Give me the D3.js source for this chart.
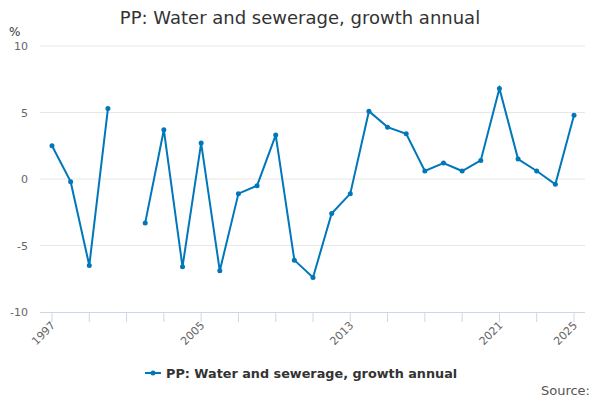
<!DOCTYPE html>
<html><head><meta charset="utf-8">
<script src="https://cdn.jsdelivr.net/npm/d3@7"></script>
<style>body{margin:0;font-family:"DejaVu Sans",sans-serif;}</style>
</head><body><div id="chart"></div>
<script>
// chart data
const years = d3.range(1997, 2026);
const growth = [2.5, -0.2, -6.5, 5.3, null, -3.3, 3.7, -6.6, 2.7, -6.9, -1.1, -0.5, 3.3, -6.1, -7.4,
  -2.6, -1.1, 5.1, 3.9, 3.4, 0.6, 1.2, 0.6, 1.4, 6.8, 1.5, 0.6, -0.4, 4.8];
const yTicks = [-10, -5, 0, 5, 10];
const xLabels = [1997, 2005, 2013, 2021, 2025];
const seriesName = "PP: Water and sewerage, growth annual";

const W = 600, H = 400;
const svg = d3.select("#chart").append("svg").attr("width", W).attr("height", H);

const x = d3.scaleLinear().domain([1997, 2025]).range([52, 574]);
const y = d3.scaleLinear().domain([-10, 10]).range([312, 46]);

// title
svg.append("text").attr("x", 300).attr("y", 24).attr("text-anchor", "middle")
  .attr("font-size", 18).attr("fill", "#333").text("PP: Water and sewerage, growth annual");
svg.append("text").attr("x", 9).attr("y", 36).attr("font-size", 12).attr("fill", "#333").text("%");

// gridlines
svg.append("g").selectAll("line").data(yTicks.filter(d => d !== -10)).enter().append("line")
  .attr("x1", 40).attr("x2", 585).attr("y1", d => y(d)).attr("y2", d => y(d))
  .attr("stroke", "#e6e6e6");
svg.append("g").selectAll("text").data(yTicks).enter().append("text")
  .attr("x", 28).attr("y", d => y(d) + 4).attr("text-anchor", "end")
  .attr("font-size", 11).attr("fill", "#666").text(d => d);

// x axis
svg.append("line").attr("x1", 40).attr("x2", 585).attr("y1", 312.5).attr("y2", 312.5).attr("stroke", "#ccd6eb");
svg.append("g").selectAll("line").data(years.filter(d => (d - 1997) % 2 === 0)).enter().append("line")
  .attr("x1", d => x(d)).attr("x2", d => x(d)).attr("y1", 312).attr("y2", 322).attr("stroke", "#ccd6eb");
svg.append("g").selectAll("text").data(xLabels).enter().append("text")
  .attr("transform", d => `translate(${x(d) + 4},${326}) rotate(-45)`)
  .attr("text-anchor", "end").attr("font-size", 11).attr("fill", "#666").text(d => d);

// line
const pts = years.map((yr, i) => ({yr, v: growth[i]}));
const line = d3.line().defined(d => d.v !== null).x(d => x(d.yr)).y(d => y(d.v));
svg.append("path").datum(pts).attr("d", line).attr("fill", "none")
  .attr("stroke", "#0077bb").attr("stroke-width", 2);
svg.append("g").selectAll("circle").data(pts.filter(d => d.v !== null)).enter().append("circle")
  .attr("cx", d => x(d.yr)).attr("cy", d => y(d.v)).attr("r", 2.5).attr("fill", "#0077bb");

// legend
const lg = svg.append("g").attr("transform", "translate(145,373)");
lg.append("line").attr("x1", 0).attr("x2", 16).attr("stroke", "#0077bb").attr("stroke-width", 2);
lg.append("circle").attr("cx", 8).attr("r", 2.5).attr("fill", "#0077bb");
lg.append("text").attr("x", 21).attr("y", 5).attr("font-size", 12.8).attr("font-weight", "bold")
  .attr("fill", "#333").text(seriesName);

svg.append("text").attr("x", 590).attr("y", 395).attr("text-anchor", "end")
  .attr("font-size", 13).attr("fill", "#555").text("Source:");
</script></body></html>
